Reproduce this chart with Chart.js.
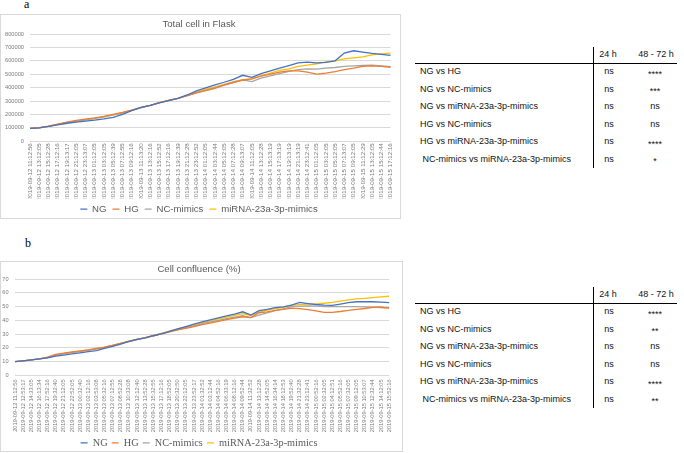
<!DOCTYPE html>
<html><head><meta charset="utf-8">
<script src="https://cdn.jsdelivr.net/npm/chart.js@4.4.1/dist/chart.umd.min.js"></script>
<style>
html,body{margin:0;padding:0;background:#fff;width:684px;height:453px;overflow:hidden;position:relative;font-family:"Liberation Sans",Arial,sans-serif;}
.box{position:absolute;border:1px solid #d9d9d9;box-sizing:border-box;}
canvas{position:absolute;}
.lbl{position:absolute;font-family:"Liberation Serif","Times New Roman",serif;font-size:12px;line-height:12px;color:#000;}
.t{position:absolute;font-size:9px;line-height:9px;white-space:nowrap;color:#111;}
.c{transform:translateX(-50%);}
.ln{position:absolute;background:#000;}
</style></head><body>
<div class="lbl" style="left:24px;top:-2px;">a</div>
<div class="lbl" style="left:25px;top:237px;">b</div>
<div class="box" style="left:0;top:14px;width:401px;height:205px;"></div>
<div class="box" style="left:0;top:261px;width:403px;height:191px;"></div>
<canvas id="ca" width="399" height="210" style="left:1px;top:14px;"></canvas>
<canvas id="cb" width="399" height="197" style="left:1px;top:261px;"></canvas>
<div id="tables"></div>
<script>
// ---------- data ----------
const labelsA = ["2019-09-12 11:12:56","2019-09-12 13:12:05","2019-09-12 15:12:28","2019-09-12 17:12:16","2019-09-12 19:13:17","2019-09-12 21:12:05","2019-09-12 23:13:07","2019-09-13 01:12:05","2019-09-13 03:12:05","2019-09-13 05:12:39","2019-09-13 07:12:55","2019-09-13 09:12:16","2019-09-13 11:13:20","2019-09-13 13:12:16","2019-09-13 15:12:52","2019-09-13 17:12:16","2019-09-13 19:12:39","2019-09-13 21:12:28","2019-09-13 23:12:52","2019-09-14 01:12:05","2019-09-14 03:12:44","2019-09-14 05:12:05","2019-09-14 07:12:28","2019-09-14 09:13:07","2019-09-14 11:12:05","2019-09-14 13:12:28","2019-09-14 15:13:19","2019-09-14 17:13:19","2019-09-14 19:13:19","2019-09-14 21:13:19","2019-09-14 23:12:41","2019-09-15 01:12:05","2019-09-15 03:12:05","2019-09-15 05:12:05","2019-09-15 07:13:07","2019-09-15 09:12:05","2019-09-15 11:12:29","2019-09-15 13:12:05","2019-09-15 15:12:44","2019-09-15 17:12:16"];
const ngA  = [95000,100000,110000,122000,134000,143000,150000,158000,166000,178000,200000,228000,252000,268000,286000,303000,320000,345000,375000,398000,420000,440000,462000,492000,476000,505000,525000,545000,565000,585000,590000,585000,588000,600000,658000,675000,665000,655000,648000,640000];
const hgA  = [95000,102000,112000,128000,142000,155000,165000,174000,186000,200000,215000,232000,250000,268000,288000,305000,319000,340000,360000,378000,395000,418000,438000,455000,465000,485000,500000,515000,525000,525000,515000,500000,508000,520000,535000,545000,558000,562000,558000,552000];
const ncA  = [95000,100000,111000,126000,139000,150000,160000,170000,182000,196000,212000,230000,250000,268000,288000,305000,319000,340000,360000,380000,400000,420000,440000,458000,445000,470000,488000,505000,522000,535000,540000,538000,545000,550000,558000,562000,565000,568000,562000,556000];
const mirA = [95000,100000,111000,126000,139000,150000,160000,170000,182000,196000,212000,230000,250000,268000,288000,305000,320000,342000,365000,388000,405000,425000,445000,460000,465000,490000,508000,528000,540000,558000,568000,578000,592000,600000,615000,622000,630000,645000,652000,658000];

const labelsB = ["2019-09-12 11:12:56","2019-09-12 12:53:17","2019-09-12 14:33:05","2019-09-12 16:13:34","2019-09-12 17:52:16","2019-09-12 19:32:40","2019-09-12 21:12:05","2019-09-12 22:52:05","2019-09-13 00:32:40","2019-09-13 02:12:16","2019-09-13 03:53:08","2019-09-13 05:32:16","2019-09-13 07:12:55","2019-09-13 08:52:28","2019-09-13 10:33:08","2019-09-13 12:12:40","2019-09-13 13:52:28","2019-09-13 15:32:55","2019-09-13 17:12:16","2019-09-13 18:52:05","2019-09-13 20:32:50","2019-09-13 22:12:05","2019-09-13 23:52:17","2019-09-14 01:32:52","2019-09-14 03:12:44","2019-09-14 04:52:16","2019-09-14 06:33:19","2019-09-14 08:12:16","2019-09-14 09:52:44","2019-09-14 11:32:52","2019-09-14 13:12:28","2019-09-14 14:52:05","2019-09-14 16:34:14","2019-09-14 18:12:53","2019-09-14 19:52:40","2019-09-14 21:32:28","2019-09-14 23:12:41","2019-09-15 00:52:16","2019-09-15 02:32:05","2019-09-15 04:12:51","2019-09-15 05:52:16","2019-09-15 07:32:05","2019-09-15 09:12:05","2019-09-15 10:53:07","2019-09-15 12:32:44","2019-09-15 14:12:05","2019-09-15 15:52:16"];
const ngB  = [10.0,10.6,11.2,12.0,12.8,14.0,14.8,15.6,16.4,17.2,18.0,19.6,21.0,22.8,24.7,26.2,27.2,28.8,30.2,32.0,33.8,35.5,37.2,38.8,40.3,41.8,43.2,44.5,46.2,43.8,47.0,48.0,49.3,49.8,51.0,53.0,52.2,51.5,51.0,50.8,51.8,52.8,53.5,53.5,53.5,53.2,52.8];
const hgB  = [10.0,10.6,11.2,12.0,13.2,15.2,16.2,17.0,17.8,18.6,19.6,20.6,21.8,23.2,24.6,26.0,27.2,28.8,30.2,31.6,33.0,34.2,35.5,36.8,38.0,39.3,40.5,41.6,42.6,42.0,45.5,46.2,47.2,48.0,48.8,48.5,47.8,46.8,45.8,45.8,46.4,47.2,48.0,48.6,49.4,49.5,48.8];
const ncB  = [10.0,10.6,11.2,12.0,13.0,14.8,15.8,16.7,17.5,18.3,19.3,20.4,21.8,23.2,24.7,26.1,27.3,28.8,30.3,31.8,33.3,34.7,36.0,37.4,38.8,40.0,41.3,42.4,43.4,42.0,43.8,45.5,47.0,48.3,50.0,50.3,50.5,50.3,50.0,50.0,49.9,50.0,49.9,49.8,49.6,49.3,49.0];
const mirB = [10.0,10.6,11.2,12.0,13.0,14.8,15.8,16.7,17.5,18.3,19.3,20.4,21.8,23.3,24.8,26.2,27.5,29.0,30.6,32.2,33.8,35.3,36.7,38.2,39.6,41.0,42.4,43.6,44.8,43.5,46.0,47.4,48.5,49.5,51.0,51.4,51.8,52.0,52.4,53.0,54.0,54.8,55.6,56.0,56.5,57.0,57.5];

const seriesNames = ["NG","HG","NC-mimics","miRNA-23a-3p-mimics"];
const comparisons = ["NG vs HG","NG vs NC-mimics","NG vs miRNA-23a-3p-mimics","HG vs NC-mimics","HG vs miRNA-23a-3p-mimics"," NC-mimics vs miRNA-23a-3p-mimics"];
const tableHeaders = ["24 h","48 - 72 h"];
const sig24A = ["ns","ns","ns","ns","ns","ns"];
const sig72A = ["****","***","ns","ns","****","*"];
const sig24B = ["ns","ns","ns","ns","ns","ns"];
const sig72B = ["****","**","ns","ns","****","**"];

// ---------- charts ----------
const colors = ["#4472C4","#ED7D31","#A5A5A5","#FFC000"];
Chart.defaults.font.family = "'Liberation Sans', Arial, sans-serif";

function ds(arrs){
  return arrs.map((d,i)=>({label:seriesNames[i],data:d,borderColor:colors[i],backgroundColor:colors[i],borderWidth:1.3,pointRadius:0,tension:0}));
}
function makeChart(id, labels, arrs, o){
  return new Chart(document.getElementById(id), {
    type:'line',
    data:{labels:labels, datasets:ds(arrs)},
    options:{
      responsive:false, animation:false,
      layout:{padding:{left:0,right:3,top:0,bottom:0}},
      plugins:{
        title:{display:true,text:o.title,color:'#595959',font:{family:"'Liberation Sans', Arial, sans-serif",size:9.6,weight:'normal'},padding:o.titlePad},
        legend:{position:'bottom',labels:{usePointStyle:true,pointStyle:'line',pointStyleWidth:7,padding:o.legPad,color:'#595959',font:{family:o.legFont,size:o.legSize}}},
        tooltip:{enabled:false}
      },
      scales:{
        x:{grid:{display:false,drawTicks:false},border:{display:false},
           ticks:{autoSkip:false,maxRotation:90,minRotation:90,padding:o.xPad,color:'#7a7a7a',font:{size:o.xFont}},
           afterFit(s){s.height=o.xH;}},
        y:{min:0,max:o.max,grid:{color:'#d9d9d9',drawTicks:false},border:{display:false},
           ticks:{stepSize:o.step,padding:o.yPad,color:'#7a7a7a',font:{size:o.yFont},callback:v=>String(v)},
           afterFit(s){s.width=o.yW;}}
      }
    }
  });
}
makeChart('ca', labelsA, [ngA,hgA,ncA,mirA], {title:'Total cell in Flask',titlePad:{top:4.2,bottom:4.3},legPad:6,legFont:"'Liberation Sans', Arial, sans-serif",legSize:9.6,xPad:2,xFont:6.2,xH:57.2,max:800000,step:100000,yPad:6,yFont:5.7,yW:29});
makeChart('cb', labelsB, [ngB,hgB,ncB,mirB], {title:'Cell confluence (%)',titlePad:{top:2.2,bottom:4.3},legPad:4,legFont:"'Liberation Serif', 'Times New Roman', serif",legSize:10.3,xPad:4,xFont:5.7,xH:58.3,max:70,step:10,yPad:6.5,yFont:5.6,yW:14});

// ---------- tables ----------
function buildTable(off, s24, s72){
  const root = document.getElementById('tables');
  const add = (cls, style, txt) => { const d=document.createElement('div'); d.className=cls; d.setAttribute('style',style); if(txt!==undefined) d.textContent=txt; root.appendChild(d); };
  add('ln', `left:593px;top:${47+off}px;width:1px;height:121px;`);
  add('ln', `left:415px;top:${62.5+off}px;width:262px;height:1.2px;`);
  add('t c', `left:608px;top:${54+off-4.5}px;`, tableHeaders[0]);
  add('t c', `left:656px;top:${54+off-4.5}px;`, tableHeaders[1]);
  comparisons.forEach((c,k)=>{
    const yc = 71.7 + 17.5*k + off;
    add('t', `left:420px;top:${yc-4.5}px;white-space:pre;`, c);
    add('t c', `left:609px;top:${yc-4.5}px;`, s24[k]);
    const star = s72[k].indexOf('*') === 0;
    add('t c', `left:655px;top:${yc-4.5+(star?2.5:0)}px;`, s72[k]);
  });
}
buildTable(0, sig24A, sig72A);
buildTable(240, sig24B, sig72B);
</script>
</body></html>
